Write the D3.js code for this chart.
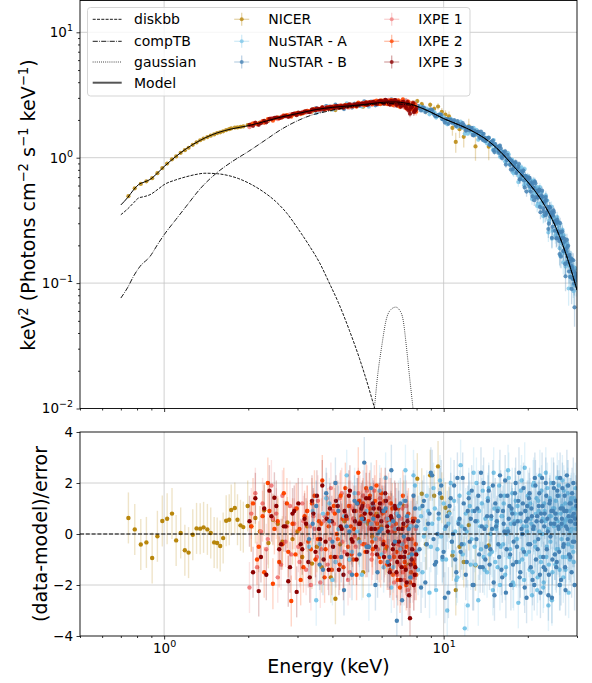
<!DOCTYPE html>
<html><head><meta charset="utf-8">
<script src="https://cdn.jsdelivr.net/npm/d3@7"></script>
<style>body{margin:0;background:#fff}svg{font-family:"DejaVu Sans",sans-serif}</style>
</head><body><svg id="c" width="592" height="683"></svg>
<script>
// ---------------- data ----------------
const modelE = [0.70,0.74,0.78,0.81,0.85,0.89,0.95,1.0,1.1,1.2,1.35,1.55,1.75,2.0,2.3,2.6,3.06,3.5,4.0,4.6,5.2,5.8,6.4,6.8,7.2,7.6,8.0,9.0,10,11,12,13,14,15,16,17,18,19,20,21,22,23,24,25,26,27,28,29,30];
const modelV = [0.42,0.48,0.56,0.61,0.64,0.67,0.76,0.85,1.02,1.18,1.38,1.58,1.70,1.80,1.95,2.1,2.27,2.42,2.52,2.59,2.66,2.74,2.78,2.78,2.74,2.68,2.58,2.31,2.05,1.88,1.73,1.58,1.43,1.27,1.11,0.96,0.83,0.73,0.64,0.56,0.485,0.415,0.35,0.29,0.235,0.187,0.147,0.114,0.088];
const compE = [0.70,0.74,0.78,0.82,0.89,0.95,1.0,1.1,1.2,1.35,1.54,1.75,2.0,2.3,2.6,3.06,3.4,3.76,4.2,4.6,5.0,5.5,6.0,6.6,7.2,8.0,9.0,10,11,12,13,14,15,16,17,18,19,20,21,22,23,24,25,26,27,28,29,30];
const compV = [0.076,0.092,0.115,0.136,0.163,0.205,0.243,0.32,0.41,0.57,0.755,0.93,1.12,1.38,1.66,2.01,2.2,2.32,2.45,2.54,2.6,2.66,2.7,2.7,2.66,2.57,2.3,2.05,1.88,1.73,1.58,1.43,1.27,1.11,0.96,0.83,0.73,0.64,0.56,0.485,0.415,0.35,0.29,0.235,0.187,0.147,0.114,0.088];
const diskE = [0.70,0.74,0.78,0.81,0.85,0.89,0.95,1.0,1.1,1.2,1.3,1.4,1.55,1.7,1.85,2.0,2.25,2.5,2.75,3.0,3.3,3.6,3.9,4.2,4.6,5.0,5.4,5.8,6.2];
const diskV = [0.351,0.39,0.44,0.477,0.49,0.507,0.56,0.61,0.665,0.705,0.735,0.752,0.745,0.72,0.68,0.63,0.54,0.45,0.36,0.275,0.2,0.145,0.1,0.07,0.042,0.025,0.0145,0.0082,0.0045];
const gaussE = [5.5,5.65,5.8,6.0,6.23,6.45,6.74,6.95,7.16,7.36,7.55,7.77,7.9];
const gaussV = [0.006,0.01,0.018,0.031,0.051,0.061,0.0643,0.061,0.051,0.031,0.018,0.01,0.007];

const nicerE = [0.745,0.785,0.825,0.864,0.906,0.946,0.985,1.025,1.067,1.104,1.146,1.186,1.223,1.266,1.306,1.346,1.384,1.428,1.468,1.51,1.548,1.587,1.626,1.667,1.709,1.738,1.79,1.83,1.876,1.92,1.99,2.05,
2.12,2.2,2.28,2.36,2.45,2.55,2.65,2.76,2.88,3.0,3.12,3.25,3.38,3.52,3.66,3.8,3.95,4.1,4.26,4.42,4.6,4.78,4.96,5.15,5.35,5.55,5.76,5.98,6.2,6.45,6.7,6.95,7.2,7.48,7.76,8.05,
8.35,8.65,8.95,9.25,9.55,9.85,10.15,10.45,10.75,11.05,11.4,11.8,12.3,13.0,14.5];
const nicerRes = [0.63,0.18,-0.41,-0.33,-0.94,-0.09,0.51,0.60,0.80,-0.25,0.04,-0.64,-0.73,-0.03,0.22,0.21,0.26,0.18,0.04,-0.33,-0.35,-0.47,-0.16,0.52,0.56,0.94,1.02,0.56,0.34,0.27,1.10,0.30,
0.63,0.1,0.93,-0.35,0.56,0.4,-0.3,0.45,-0.2,0.1,-0.9,0.3,-1.16,-0.5,-1.3,0.6,-1.7,-2.54,-0.4,0.5,-1.0,0.6,-0.2,-1.5,0.4,-0.1,0.8,0.3,-0.6,0.62,-0.3,0.2,1.1,-1.2,0.5,2.17,
1.58,-0.4,2.3,1.5,2.65,1.42,1.03,0.85,-0.84,-2.2,-0.5,-1.1,0.35,-1.23,-0.45];
const nicerErr = [1.3,1.2,1.2,1.1,1.1,1.1,1.1,1.1,1.1,1.1,1.1,1.1,1.1,1.1,1.1,1.1,1.1,1.1,1.1,1.1,1.1,1.1,1.2,1.2,1.2,1.2,1.2,1.2,1.2,1.3,1.3,1.3,
1.4,1.4,1.4,1.5,1.5,1.5,1.6,1.6,1.6,1.7,1.7,1.8,1.8,1.9,1.9,2.0,2.0,2.1,2.2,2.2,2.3,2.4,2.5,2.6,2.7,2.8,2.9,3.0,3.2,3.3,3.5,3.7,3.9,4.1,4.4,4.7,
5,5.5,6,6.5,7,8,9,10,12,13,14,15,16,18,20];

// NuSTAR energy grids (keV)
const nustarGrid1 = [3.3,3.5,3.7,3.9,4.1,4.3,4.5,4.7,4.9,5.1,5.3,5.5,5.7,5.9,6.1,6.3,6.5,6.7,6.9,7.1,7.3,7.5,7.7,7.9,
8.1,8.3,8.5,8.7,8.9,9.1,9.3,9.5,9.7,9.9,10.1,10.3,10.5,10.7,10.9,11.1,11.3,11.5,11.7,11.9,12.1,12.3,12.5,12.7,12.9,13.1,13.3,13.5,13.7,13.9,
14.1,14.3,14.5,14.7,14.9,15.1,15.3,15.5,15.7,15.9,16.1,16.3,16.5,16.7,16.9,17.1,17.3,17.5,17.7,17.9,18.1,18.3,18.5,18.7,18.9,19.1,19.3,19.5,19.7,19.9,
20.1,20.3,20.5,20.7,20.9,21.1,21.3,21.5,21.7,21.9,22.1,22.3,22.5,22.7,22.9,23.1,23.3,23.5,23.7,23.9,24.1,24.3,24.5,24.7,24.9,
25.1,25.3,25.5,25.7,25.9,26.1,26.3,26.5,26.7,26.9,27.1,27.3,27.5,27.7,27.9,28.1,28.3,28.5,28.7,28.9,29.1,29.3,29.5,29.7];
const nustarGrid2 = [3.4,3.6,3.8,4.0,4.2,4.4,4.6,4.8,5.0,5.2,5.4,5.6,5.8,6.0,6.2,6.4,6.6,6.8,7.0,7.2,7.4,7.6,7.8,8.0,
8.2,8.4,8.6,8.8,9.0,9.2,9.4,9.6,9.8,10.0,10.2,10.4,10.6,10.8,11.0,11.2,11.4,11.6,11.8,12.0,12.2,12.4,12.6,12.8,13.0,13.2,13.4,13.6,13.8,14.0,
14.2,14.4,14.6,14.8,15.0,15.2,15.4,15.6,15.8,16.0,16.2,16.4,16.6,16.8,17.0,17.2,17.4,17.6,17.8,18.0,18.2,18.4,18.6,18.8,19.0,19.2,19.4,19.6,19.8,20.0,
20.2,20.4,20.6,20.8,21.0,21.2,21.4,21.6,21.8,22.0,22.2,22.4,22.6,22.8,23.0,23.2,23.4,23.6,23.8,24.0,24.2,24.4,24.6,24.8,25.0,
25.2,25.4,25.6,25.8,26.0,26.2,26.4,26.6,26.8,27.0,27.2,27.4,27.6,27.8,28.0,28.2,28.4,28.6,28.8,29.0,29.2,29.4,29.6,29.8];
const nustarErr = [2.5,2.4,2.4,2.3,2.3,2.2,2.2,2.2,2.1,2.1,2.1,2.0,2.0,2.0,2.0,2.0,2.0,2.0,2.0,2.0,2.0,2.1,2.1,2.1,
2.1,2.1,2.2,2.2,2.2,2.3,2.3,2.3,2.4,2.4,2.5,2.5,2.6,2.6,2.7,2.7,2.8,2.8,2.9,3.0,3.0,3.1,3.2,3.2,3.3,3.4,3.5,3.5,3.6,3.7,
3.8,3.9,4.0,4.1,4.2,4.3,4.4,4.5,4.6,4.7,4.8,5.0,5.1,5.2,5.4,5.5,5.6,5.8,5.9,6.1,6.2,6.4,6.6,6.7,6.9,7.0,7.1,7.2,7.3,7.4,
7.5,7.7,7.9,8.1,8.3,8.5,8.7,8.9,9.1,9.3,9.5,9.7,9.9,10.1,10.3,10.5,10.7,10.9,11.1,11.3,11.5,11.7,11.9,12.1,12.3,
12.5,12.8,13.1,13.4,13.7,14,14.3,14.6,14.9,15.2,15.5,15.8,16.1,16.4,16.7,17,17.3,17.6,17.9,18.2,18.5,18.8,19.1,19.4];
const nustarARes1 = [-0.5,-2.6,0.8,1.2,-1.1,0.3,2.3,-0.7,0.1,-1.6,0.9,0.4,-0.2,1.7,-1.3,0.6,-2.1,0.2,1.1,-0.4,2.5,-0.9,0.3,1.9,
-1.4,0.7,-0.1,1.5,-2.3,0.4,1.0,-0.6,2.1,-1.0,0.2,-3.0,0.8,-0.3,1.3,-1.8,0.5,2.7,-0.8,-3.7,0.1,1.6,-1.2,0.9,-0.5,2.0,-2.6,0.3,1.2,-0.9,
0.6,-1.5,1.8,0.0,-0.7,2.4,-1.1,0.4,1.0,-2.0,0.7,-0.4,1.5,-1.3,0.2,2.2,-0.6,0.9,-1.9,0.5,1.3,-0.2,-2.7,0.8,1.7,-1.0,0.3,2.6,-0.8,0.1,
1.1,-1.4,0.6,-2.4,1.9,0.2,-0.5,1.4,-1.7,0.9,2.3,-1.1,0.0,-2.1,1.2,0.5,-0.9,1.8,-2.8,0.7,-0.3,2.0,-1.5,0.4,1.0,
-1.2,0.8,2.2,-0.6,1.5,-2.0,0.3,1.1,-0.9,1.7,0.5,-1.4,0.9,1.9,-0.4,0.6,-1.0,1.3,0.2,0.7,-0.7,1.4,0.4,1.0];
const nustarARes2 = [0.9,-0.4,1.4,-1.8,0.2,0.7,-1.0,1.6,-0.3,0.5,-2.4,1.1,0.0,-0.8,2.2,0.4,-1.3,0.8,-0.6,1.3,-1.9,0.3,2.3,-0.7,
1.0,-1.5,0.2,0.9,-0.5,1.8,-2.2,0.6,-0.1,1.2,-1.0,0.4,2.0,-0.7,0.1,-1.7,1.5,0.3,-0.4,0.8,-2.8,1.1,-0.2,2.4,-1.2,0.5,0.9,-0.6,1.7,-1.4,
0.3,1.4,-0.8,0.6,-2.2,1.0,0.2,-1.3,1.9,-0.5,0.7,1.2,-1.6,0.0,2.5,-0.9,0.4,1.6,-2.0,0.8,-0.2,1.1,-1.1,0.5,2.1,-0.6,-1.8,0.9,0.3,1.5,
-0.7,1.2,0.4,-1.5,2.0,-0.3,0.8,-2.2,1.3,0.1,-0.9,1.7,0.6,-1.9,0.9,2.4,-0.5,0.2,-1.2,1.4,0.7,-2.6,1.0,0.3,-0.8,
1.3,-0.6,0.5,1.9,-1.4,0.8,-0.2,2.1,-1.7,0.4,1.2,-0.9,0.6,1.6,-2.3,0.9,0.1,1.4,-0.5,1.0,-1.1,0.7,1.8,0.2];
const nustarBRes2 = [0.4,-1.2,1.6,-0.3,0.9,-2.2,0.1,1.3,-0.8,2.8,-0.5,0.6,-1.5,0.2,1.0,-0.9,0.5,-3.4,1.2,-0.1,0.7,-1.7,1.5,0.3,
-0.6,1.1,-1.9,0.4,2.4,-0.2,-1.1,0.8,1.9,-0.7,0.3,-2.3,1.4,0.0,-1.0,2.2,0.6,-0.4,1.2,-1.6,0.9,-0.3,1.7,-2.0,0.5,1.0,-0.8,2.4,-1.3,0.2,
-0.5,1.3,-1.2,0.7,1.9,-2.4,0.3,0.9,-0.9,1.5,-1.7,0.4,2.1,-0.6,0.1,1.1,-2.0,0.8,-0.3,1.6,-1.1,0.5,2.4,-1.5,0.2,1.2,-0.7,0.9,-2.5,0.6,
1.4,-0.4,1.0,-1.8,0.3,2.2,-1.0,0.7,-0.2,1.6,-2.3,0.5,1.1,-1.3,0.8,2.0,-0.6,0.1,-1.6,1.3,0.4,-2.5,0.9,1.8,-0.8,
0.6,-1.1,1.5,0.2,-2.0,1.0,0.4,1.8,-0.5,0.9,-1.3,0.3,2.3,-0.2,0.7,1.2,-0.9,0.5,1.6,-0.3,0.8,-2.0,0.4,1.1];
const nustarBRes1 = [-0.2,1.1,-1.4,0.5,2.0,-0.9,0.3,-1.6,1.2,0.6,-0.5,1.8,-2.0,0.1,0.9,-1.1,2.5,-0.3,0.7,-2.6,1.3,0.2,-0.8,1.0,
0.5,-2.1,1.3,-0.4,0.8,2.3,-1.2,0.0,1.6,-0.9,-2.5,0.7,1.1,-0.3,1.9,-1.5,0.4,-0.7,2.2,0.2,-1.1,1.4,0.6,-2.0,0.9,-0.2,1.5,-1.3,0.3,2.0,
-1.0,0.7,1.7,-0.6,0.2,-1.9,1.2,0.5,-0.4,2.3,-1.4,0.9,0.1,-2.3,1.5,0.6,-0.8,1.0,-1.2,0.4,2.0,-0.5,1.3,-1.7,0.8,0.0,1.8,-2.1,0.5,1.1,
-0.4,1.6,-1.3,0.7,0.2,-2.0,1.9,0.5,-0.6,1.1,-1.6,0.8,2.2,-0.9,0.3,-1.4,1.5,0.6,-2.4,1.2,-0.1,0.9,-1.0,2.0,0.4,
0.8,-1.3,1.7,0.3,-0.7,2.2,-1.8,0.6,1.0,-0.4,1.5,-2.2,0.9,0.2,1.9,-0.8,0.5,1.2,-1.5,0.7,2.0,-0.3,0.6,1.3];

// IXPE energy grids (keV)
const ixpeGridA = [2.02,2.12,2.22,2.32,2.42,2.52,2.62,2.72,2.82,2.92,3.02,3.12,3.22,3.32,3.42,3.52,3.62,3.72,3.82,3.92,4.02,4.12,4.22,4.32,4.42,4.52,4.62,4.72,4.82,4.92,5.02,5.12,5.22,5.32,5.42,5.52,5.62,5.72,5.82,5.92,6.02,6.12,6.22,6.32,6.42,6.52,6.62,6.72,6.82,6.92,7.02,7.12,7.22,7.32,7.42,7.52,7.62,7.72,7.82,7.92];
const ixpeGridB = [2.05,2.15,2.25,2.35,2.45,2.55,2.65,2.75,2.85,2.95,3.05,3.15,3.25,3.35,3.45,3.55,3.65,3.75,3.85,3.95,4.05,4.15,4.25,4.35,4.45,4.55,4.65,4.75,4.85,4.95,5.05,5.15,5.25,5.35,5.45,5.55,5.65,5.75,5.85,5.95,6.05,6.15,6.25,6.35,6.45,6.55,6.65,6.75,6.85,6.95,7.05,7.15,7.25,7.35,7.45,7.55,7.65,7.75,7.85,7.95];
const ixpeGridC = [2.08,2.18,2.28,2.38,2.48,2.58,2.68,2.78,2.88,2.98,3.08,3.18,3.28,3.38,3.48,3.58,3.68,3.78,3.88,3.98,4.08,4.18,4.28,4.38,4.48,4.58,4.68,4.78,4.88,4.98,5.08,5.18,5.28,5.38,5.48,5.58,5.68,5.78,5.88,5.98,6.08,6.18,6.28,6.38,6.48,6.58,6.68,6.78,6.88,6.98,7.08,7.18,7.28,7.38,7.48,7.58,7.68,7.78,7.88,7.98];
const ixpeErr = [1.6,1.5,1.5,1.4,1.4,1.3,1.3,1.3,1.2,1.2,1.2,1.2,1.2,1.2,1.2,1.2,1.3,1.3,1.3,1.3,1.4,1.4,1.4,1.5,1.5,1.6,1.6,1.7,1.7,1.8,1.8,1.9,2.0,2.0,2.1,2.2,2.3,2.4,2.5,2.6,2.7,2.8,2.9,3.0,3.1,3.2,3.4,3.5,3.6,3.8,4.0,4.2,4.4,4.6,4.8,5.0,5.3,5.6,5.9,6.2];
const ixpe1ResA = [-2.1,1.6,0.1,-0.6,1.9,0.8,-1.2,-0.3,1.1,0.4,-0.5,1.2,-1.4,0.3,0.7,-0.9,-1.9,0.5,1.4,-0.2,0.9,-1.1,0.2,1.6,-0.7,0.6,-1.5,1.0,-0.1,0.4,1.3,-0.4,0.8,1.7,0.2,-1.0,1.1,0.5,-0.6,1.4,0.9,-0.3,0.6,-1.2,1.2,0.1,-0.8,0.4,-1.6,0.7,-0.5,1.0,-1.8,-0.2,0.6,-1.3,-0.9,0.3,-2.0,-0.7];
const ixpe1ResB = [0.8,-1.3,1.2,-0.2,0.6,-1.7,1.5,0.3,-0.8,1.0,-1.1,0.5,0.9,-2.0,0.2,1.3,-0.6,0.7,-1.2,1.8,0.4,-0.9,1.4,-0.3,0.8,-1.8,1.1,0.6,-0.5,1.6,0.9,1.5,-0.4,1.1,0.3,-0.8,1.7,0.6,1.0,-0.2,1.2,-0.7,0.5,1.4,-1.0,0.3,-1.9,0.8,-0.4,-1.2,0.6,-1.5,-0.3,1.1,-2.2,-0.6,0.4,-1.7,-1.0,0.2];
const ixpe2ResB = [0.3,-1.0,0.7,2.0,-1.95,0.5,-0.4,1.2,-2.63,-0.8,0.2,-1.3,0.9,-0.6,1.5,-0.2,0.4,-1.7,0.8,-0.9,1.1,0.0,-1.2,0.6,1.8,-0.5,0.3,-1.0,0.9,2.4,0.5,1.2,-0.7,0.9,1.5,-0.3,0.7,1.9,0.2,-1.1,0.8,1.3,-0.5,0.6,-1.4,1.0,-0.9,0.4,-1.8,0.2,-0.6,1.5,-1.1,-2.0,0.3,-0.8,-1.5,0.6,-1.2,-0.4];
const ixpe2ResC = [1.2,-0.5,-1.5,0.9,0.2,-1.1,1.6,-0.7,0.4,1.0,-1.8,0.7,-0.3,1.2,-1.0,0.5,2.1,-0.6,0.3,-1.4,0.8,-0.2,1.5,-1.3,0.6,1.1,-0.8,0.2,-1.6,1.3,0.7,-0.4,1.8,0.5,1.0,-0.6,1.3,0.4,-0.9,1.6,-0.3,0.9,-1.2,0.5,1.2,-1.6,0.1,-0.7,1.0,-2.1,-0.9,0.3,-1.3,-0.5,0.8,-1.9,-0.2,-1.1,0.6,-1.6];
const ixpe3ResC = [-1.5,-2.24,1.0,1.7,1.42,-0.6,0.3,-1.85,0.8,-2.27,-0.4,0.6,-1.1,1.3,-0.7,0.2,1.9,-0.3,-1.4,0.5,-0.9,1.1,0.3,-1.6,0.7,1.5,-0.2,0.9,-1.0,0.4,1.0,0.6,1.4,-0.5,0.8,1.2,0.2,-0.8,1.0,0.5,-0.4,1.6,0.3,-1.2,0.7,-0.6,1.1,-1.5,0.2,-0.9,-1.3,0.4,-0.7,-1.9,-0.2,-3.3,-1.0,0.5,-1.6,-0.8];
const ixpe3ResA = [0.5,1.4,-0.9,-1.6,0.7,1.1,-0.4,0.3,-1.3,0.9,1.2,-0.6,0.4,-1.7,0.8,1.5,-0.2,-1.0,0.6,1.0,-0.5,1.3,-1.4,0.2,0.9,-0.8,1.7,-0.3,0.5,1.2,0.4,1.1,0.8,-0.7,1.4,0.2,1.0,-0.5,0.7,1.2,0.9,-0.9,1.3,0.1,-1.5,0.6,-0.4,1.0,-1.1,-0.3,-1.8,0.2,-0.9,-1.4,0.5,-2.4,-1.2,-0.6,-2.0,-1.3];

const xMajor = [1,10];
const xMinor = [0.5,0.6,0.7,0.8,0.9,2,3,4,5,6,7,8,9,20,30];
const yTopMajor = [0.01,0.1,1,10];
const resTicks = [-4,-2,0,2,4];

const seriesNames = ["NICER","NuSTAR - A","NuSTAR - B","IXPE 1","IXPE 2","IXPE 3"];
const seriesColors = ["#b8860b","#7cc6e8","#4682b4","#f08080","#ff4500","#8b0000"];
const lineNames = ["diskbb","compTB","gaussian","Model"];

// ---------------- chart ----------------
const svg = d3.select("#c");
const L=80, R=577, T0=0.5, B0=408.5, T1=432, B1=636;
const x = d3.scaleLog().domain([0.5,30]).range([L,R]);
const yT = d3.scaleLog().domain([0.01,17.93]).range([B0,T0]);
const yR = d3.scaleLinear().domain([-4,4]).range([B1,T1]);
const gridC = "#c4c4c4";

const defs = svg.append("defs");
defs.append("clipPath").attr("id","cpT").append("rect").attr("x",L).attr("y",T0).attr("width",R-L).attr("height",B0-T0);
defs.append("clipPath").attr("id","cpB").append("rect").attr("x",L).attr("y",T1).attr("width",R-L).attr("height",B1-T1);

function interp(xs, ys, e){
  if(e<=xs[0]) return ys[0];
  if(e>=xs[xs.length-1]) return ys[ys.length-1];
  const i=d3.bisectRight(xs,e);
  const t=(Math.log(e)-Math.log(xs[i-1]))/(Math.log(xs[i])-Math.log(xs[i-1]));
  return Math.exp(Math.log(ys[i-1])+t*(Math.log(ys[i])-Math.log(ys[i-1])));
}

// grids
const gT = svg.append("g");
xMajor.forEach(v=>{
  gT.append("line").attr("x1",x(v)).attr("x2",x(v)).attr("y1",T0).attr("y2",B0).attr("stroke",gridC).attr("stroke-width",0.8);
  gT.append("line").attr("x1",x(v)).attr("x2",x(v)).attr("y1",T1).attr("y2",B1).attr("stroke",gridC).attr("stroke-width",0.8);
});
[0.1,1,10].forEach(v=>gT.append("line").attr("x1",L).attr("x2",R).attr("y1",yT(v)).attr("y2",yT(v)).attr("stroke",gridC).attr("stroke-width",0.8));
[-2,0,2].forEach(v=>gT.append("line").attr("x1",L).attr("x2",R).attr("y1",yR(v)).attr("y2",yR(v)).attr("stroke",gridC).attr("stroke-width",0.8));

// series: each instrument = list of (energy grid, residuals, errors %)
const data = [
  [[nicerE,nicerRes,nicerErr]],
  [[nustarGrid1,nustarARes1,nustarErr],[nustarGrid2,nustarARes2,nustarErr]],
  [[nustarGrid2,nustarBRes2,nustarErr],[nustarGrid1,nustarBRes1,nustarErr]],
  [[ixpeGridA,ixpe1ResA,ixpeErr],[ixpeGridB,ixpe1ResB,ixpeErr]],
  [[ixpeGridB,ixpe2ResB,ixpeErr],[ixpeGridC,ixpe2ResC,ixpeErr]],
  [[ixpeGridC,ixpe3ResC,ixpeErr],[ixpeGridA,ixpe3ResA,ixpeErr]]
];
const pT = svg.append("g").attr("clip-path","url(#cpT)");
const pB = svg.append("g").attr("clip-path","url(#cpB)");
const resGroups = [];
[0,3,4,1,5,2].forEach(k=>{ resGroups[k] = pB.append("g"); });
data.forEach((parts,k)=>{
  const col = seriesColors[k];
  const pts = [];
  parts.forEach(([E,Rs,S])=>E.forEach((e,i)=>{
    const m = interp(modelE,modelV,e);
    const sig = m*S[i]/100;
    pts.push({e, f:m+Rs[i]*sig, sig, r:Rs[i]});
  }));
  const g1 = pT.append("g");
  g1.selectAll("line").data(pts).join("line")
    .attr("x1",d=>x(d.e)).attr("x2",d=>x(d.e))
    .attr("y1",d=>yT(Math.max(d.f-d.sig,1e-3))).attr("y2",d=>yT(d.f+d.sig))
    .attr("stroke",col).attr("stroke-opacity",0.3).attr("stroke-width",1.3);
  g1.selectAll("circle").data(pts).join("circle")
    .attr("cx",d=>x(d.e)).attr("cy",d=>yT(d.f)).attr("r",2.1).attr("fill",col).attr("fill-opacity",0.85);
  const g2 = resGroups[k];
  g2.selectAll("line").data(pts).join("line")
    .attr("x1",d=>x(d.e)).attr("x2",d=>x(d.e))
    .attr("y1",d=>yR(d.r-1)).attr("y2",d=>yR(d.r+1))
    .attr("stroke",col).attr("stroke-opacity",0.22).attr("stroke-width",1.4);
  g2.selectAll("circle").data(pts).join("circle")
    .attr("cx",d=>x(d.e)).attr("cy",d=>yR(d.r)).attr("r",2.2).attr("fill",col);
});

// model lines
const line = d3.line().x(d=>x(d[0])).y(d=>yT(d[1])).curve(d3.curveMonotoneX);
const comps = [
  {E:diskE,V:diskV,dash:"3,1.3",w:0.9},
  {E:compE,V:compV,dash:"5.1,1.3,0.8,1.3",w:0.9},
  {E:gaussE,V:gaussV,dash:"0.8,1.3",w:0.9},
  {E:modelE,V:modelV,dash:null,w:1.0}
];
comps.forEach(cm=>{
  pT.append("path").datum(cm.E.map((e,i)=>[e,cm.V[i]])).attr("d",line)
    .attr("fill","none").attr("stroke","#000").attr("stroke-width",cm.w)
    .attr("stroke-dasharray",cm.dash);
});
pB.append("line").attr("x1",L).attr("x2",R).attr("y1",yR(0)).attr("y2",yR(0))
  .attr("stroke","#000").attr("stroke-width",1.1).attr("stroke-dasharray","4,1.8");

// axes
const fs = 13.5;
function styleAxis(g){
  g.select(".domain").remove();
  g.selectAll(".tick line").attr("stroke","#000").attr("stroke-width",0.8);
  g.selectAll("text").attr("font-size",fs).attr("font-family","DejaVu Sans").attr("fill","#000");
}
function powLabels(g){
  g.selectAll(".tick text").each(function(d){
    const e=Math.round(Math.log10(d));
    const t=d3.select(this); t.text("");
    t.append("tspan").text("10");
    t.append("tspan").attr("dy",-6).attr("font-size",9.5).text(e<0?"−"+(-e):String(e));
  });
}
svg.append("g").attr("transform",`translate(0,${B0})`).call(d3.axisBottom(x).tickValues(xMajor).tickSize(3.5).tickFormat("")).call(styleAxis);
svg.append("g").attr("transform",`translate(0,${B0})`).call(d3.axisBottom(x).tickValues(xMinor).tickSize(2).tickFormat("")).call(styleAxis);
const gxB = svg.append("g").attr("transform",`translate(0,${B1})`).call(d3.axisBottom(x).tickValues(xMajor).tickSize(3.5).tickPadding(3.5).tickFormat(d=>d)).call(styleAxis);
powLabels(gxB);
svg.append("g").attr("transform",`translate(0,${B1})`).call(d3.axisBottom(x).tickValues(xMinor).tickSize(2).tickFormat("")).call(styleAxis);
const yMinor = [];
[0.01,0.1,1,10].forEach(dec=>{for(let m=2;m<=9;m++){const v=m*dec; if(v<17.93) yMinor.push(v);}});
const gyT = svg.append("g").attr("transform",`translate(${L},0)`).call(d3.axisLeft(yT).tickValues(yTopMajor).tickSize(3.5).tickPadding(3.5).tickFormat(d=>d)).call(styleAxis);
powLabels(gyT);
svg.append("g").attr("transform",`translate(${L},0)`).call(d3.axisLeft(yT).tickValues(yMinor).tickSize(2).tickFormat("")).call(styleAxis);
svg.append("g").attr("transform",`translate(${L},0)`).call(d3.axisLeft(yR).tickValues(resTicks).tickSize(3.5).tickPadding(3.5).tickFormat(d=>d<0?"−"+(-d):String(d))).call(styleAxis);

// spines
[[T0,B0],[T1,B1]].forEach(([a,b])=>{
  svg.append("rect").attr("x",L).attr("y",a).attr("width",R-L).attr("height",b-a)
    .attr("fill","none").attr("stroke","#000").attr("stroke-width",0.9);
});

// labels
const lfs = 19;
const yl = svg.append("text").attr("transform","translate(35,205) rotate(-90)").attr("text-anchor","middle").attr("font-size",lfs);
yl.append("tspan").text("keV");
yl.append("tspan").attr("dy",-7.5).attr("font-size",13.3).text("2");
yl.append("tspan").attr("dy",7.5).text(" (Photons cm");
yl.append("tspan").attr("dy",-7.5).attr("font-size",13.3).text("−2");
yl.append("tspan").attr("dy",7.5).text(" s");
yl.append("tspan").attr("dy",-7.5).attr("font-size",13.3).text("−1");
yl.append("tspan").attr("dy",7.5).text(" keV");
yl.append("tspan").attr("dy",-7.5).attr("font-size",13.3).text("−1");
yl.append("tspan").attr("dy",7.5).text(")");
svg.append("text").attr("transform","translate(47,534) rotate(-90)").attr("text-anchor","middle").attr("font-size",lfs).text("(data-model)/error");
svg.append("text").attr("x",(L+R)/2).attr("y",673).attr("text-anchor","middle").attr("font-size",lfs).text("Energy (keV)");

// legend
const lg = svg.append("g");
lg.append("rect").attr("x",87.5).attr("y",7.5).attr("width",382.5).attr("height",88.5).attr("rx",3)
  .attr("fill","#fff").attr("fill-opacity",0.8).attr("stroke","#d0d0d0").attr("stroke-width",0.9);
const rowY = [19.3,41.3,62,82.7];
const lfont = 14;
comps.forEach((cm,i)=>{
  const yy=rowY[i];
  lg.append("line").attr("x1",92.7).attr("x2",121.7).attr("y1",yy).attr("y2",yy)
    .attr("stroke",i===3?"#555":"#000").attr("stroke-width",i===3?2:0.9).attr("stroke-dasharray",cm.dash);
  lg.append("text").attr("x",134).attr("y",yy+5).attr("font-size",lfont).text(lineNames[i]);
});
seriesNames.forEach((n,k)=>{
  const col = k<3?241.7:391.7, yy=rowY[k%3];
  const c = seriesColors[k];
  lg.append("line").attr("x1",col-7.5).attr("x2",col+7.5).attr("y1",yy).attr("y2",yy).attr("stroke",c).attr("stroke-opacity",0.35).attr("stroke-width",1.3);
  lg.append("line").attr("x1",col).attr("x2",col).attr("y1",yy-6.5).attr("y2",yy+6.5).attr("stroke",c).attr("stroke-opacity",0.35).attr("stroke-width",1.3);
  lg.append("circle").attr("cx",col).attr("cy",yy).attr("r",2).attr("fill",c).attr("fill-opacity",0.75);
  lg.append("text").attr("x",col+26.6).attr("y",yy+5).attr("font-size",lfont).text(n);
});
</script></body></html>
